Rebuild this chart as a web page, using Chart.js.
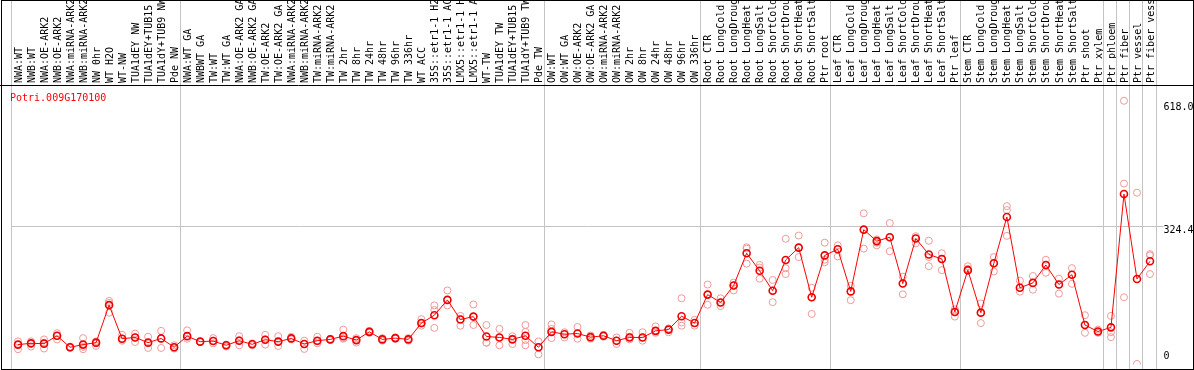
<!DOCTYPE html>
<html>
<head>
<meta charset="utf-8">
<script src="https://cdn.jsdelivr.net/npm/chart.js@4.4.1/dist/chart.umd.min.js"></script>
<style>
  html, body { margin: 0; padding: 0; background: #fff; }
  #chart { display: block; }
</style>
</head>
<body>
<canvas id="chart" width="1194" height="370"></canvas>
<script>
// Sample names (x categories)
const categories = [
  "NWA:WT", "NWB:WT", "NWA:OE-ARK2", "NWB:OE-ARK2", "NWA:miRNA-ARK2", "NWB:miRNA-ARK2",
  "NW 0hr", "WT H2O", "WT-NW", "TUA1dEY NW", "TUA1dEY+TUB15 NW", "TUA1dY+TUB9 NW", "Pde NW",
  "NWA:WT GA", "NWBWT GA", "TW:WT", "TW:WT GA", "NWA:OE-ARK2 GA", "NWB:OE-ARK2 GA",
  "TW:OE-ARK2", "TW:OE-ARK2 GA", "NWA:miRNA-ARK2", "NWB:miRNA-ARK2", "TW:miRNA-ARK2",
  "TW:miRNA-ARK2", "TW 2hr", "TW 8hr", "TW 24hr", "TW 48hr", "TW 96hr", "TW 336hr", "WT ACC",
  "35S::etr1-1 H2O", "35S::etr1-1 ACC", "LMX5::etr1-1 H2O", "LMX5::etr1-1 ACC", "WT-TW",
  "TUA1dEY TW", "TUA1dEY+TUB15 TW", "TUA1dY+TUB9 TW", "Pde TW",
  "OW:WT", "OW:WT GA", "OW:OE-ARK2", "OW:OE-ARK2 GA", "OW:miRNA-ARK2", "OW:miRNA-ARK2",
  "OW 2hr", "OW 8hr", "OW 24hr", "OW 48hr", "OW 96hr", "OW 336hr",
  "Root CTR", "Root LongCold", "Root LongDrought", "Root LongHeat", "Root LongSalt",
  "Root ShortCold", "Root ShortDrought", "Root ShortHeat", "Root ShortSalt", "Ptr root",
  "Leaf CTR", "Leaf LongCold", "Leaf LongDrought", "Leaf LongHeat", "Leaf LongSalt",
  "Leaf ShortCold", "Leaf ShortDrought", "Leaf ShortHeat", "Leaf ShortSalt", "Ptr leaf",
  "Stem CTR", "Stem LongCold", "Stem LongDrought", "Stem LongHeat", "Stem LongSalt",
  "Stem ShortCold", "Stem ShortDrought", "Stem ShortHeat", "Stem ShortSalt",
  "Ptr shoot", "Ptr xylem", "Ptr phloem", "Ptr fiber", "Ptr vessel", "Ptr fiber vessel"
];

// mean expression per sample
const means = [
  46.4, 49.4, 48.7, 67.1, 40.2, 46.4, 51.0, 139.0, 60.2, 63.2, 51.0, 60.9, 40.2,
  66.2, 53.3, 54.7, 44.8, 55.6, 47.1, 57.9, 53.3, 60.9, 47.8, 55.6, 58.6, 66.2, 57.0,
  76.3, 58.6, 61.6, 58.6, 96.9, 115.3, 151.2, 105.2, 112.1, 65.5, 63.2, 58.6, 67.1, 40.2,
  76.3, 70.8, 72.4, 63.9, 67.1, 55.6, 63.2, 63.2, 78.6, 81.6, 113.0, 96.9,
  163.6, 145.2, 184.9, 260.7, 219.4, 172.8, 244.7, 273.8, 157.4, 255.5,
  269.9, 171.1, 315.9, 289.0, 298.2, 189.5, 295.2, 257.8, 247.0, 122.9,
  221.0, 121.3, 237.1, 345.7, 179.6, 191.1, 233.2, 187.2, 210.2,
  92.4, 77.0, 86.8, 399.3, 200.3, 241.7
];

// individual replicates per sample
const replicates = [
  [54.0, 46.4, 35.6], [54.0, 47.8, 41.8], [58.6, 51.0, 37.2], [73.1, 66.2, 58.6],
  [41.8, 40.2, 38.6], [61.6, 40.9, 35.6], [54.0, 49.4, 43.2], [148.9, 144.3, 121.3],
  [69.4, 60.2, 55.6], [72.4, 63.2, 52.4], [64.8, 51.0, 38.6], [78.6, 60.2, 38.6],
  [44.8, 40.2, 37.2], [79.9, 66.2, 60.2], [54.0, 53.3, 52.6], [61.6, 55.6, 49.4],
  [46.4, 44.8, 41.8], [66.2, 57.0, 44.8], [49.4, 47.8, 44.8], [69.4, 58.6, 46.4],
  [66.2, 54.0, 43.2], [64.8, 61.6, 58.6], [55.6, 47.8, 36.3], [64.8, 54.0, 49.4],
  [60.2, 58.6, 57.0], [81.6, 61.6, 60.2], [61.6, 57.0, 51.0], [78.6, 76.3, 74.0],
  [61.6, 58.6, 55.6], [63.2, 61.6, 60.2], [61.6, 58.6, 55.6], [106.1, 95.3, 90.7],
  [138.3, 127.5, 85.5], [173.4, 151.2, 138.3], [113.7, 106.1, 90.7], [140.6, 112.1, 92.4],
  [92.4, 51.0, 51.0], [83.2, 63.2, 44.8], [66.2, 60.2, 47.8], [92.4, 76.3, 57.0, 44.8],
  [54.0, 40.2, 23.4], [93.7, 83.2, 61.6], [75.4, 70.8, 63.2], [87.8, 72.4, 60.2],
  [67.8, 63.9, 60.2], [69.4, 67.1, 64.8], [63.2, 55.6, 47.8], [74.0, 64.8, 58.6],
  [75.4, 63.2, 55.6], [89.1, 78.6, 74.0], [84.5, 81.6, 75.4], [155.1, 98.3, 90.7],
  [104.5, 96.9, 90.7], [187.2, 163.6, 139.7], [155.1, 144.3, 136.7], [191.8, 184.9, 173.4],
  [274.5, 271.5, 236.2], [233.2, 227.0, 201.0], [198.0, 172.8, 145.9], [294.5, 225.6, 211.8],
  [302.1, 273.8, 251.6], [179.6, 157.4, 118.3], [285.3, 245.4, 239.4], [279.1, 269.9, 253.2],
  [184.2, 171.1, 150.5], [354.2, 315.9, 271.5], [292.9, 285.3, 279.1], [331.3, 298.2, 265.3],
  [205.6, 189.5, 164.3], [300.5, 295.2, 283.7], [289.9, 251.6, 230.2], [260.7, 247.0, 221.0],
  [129.1, 122.9, 112.1], [230.2, 224.0, 219.4], [142.9, 121.3, 96.9], [251.6, 237.1, 217.8],
  [371.0, 361.8, 301.4], [196.4, 179.6, 170.5], [207.2, 191.1, 175.1], [245.4, 233.2, 214.8],
  [201.0, 187.2, 165.9], [225.6, 210.2, 188.8], [115.3, 92.4, 74.0], [81.6, 77.0, 74.0],
  [113.7, 75.4, 63.9], [618.0, 423.9, 157.4], [402.5, 1.1], [258.4, 255.5, 211.8]
];

const yTicks = [0, 324.4, 618.0];
const geneName = "Potri.009G170100";
// group boundaries (number of samples before each divider)
const groupBreaks = [0, 13, 41, 53, 63, 73, 84, 85, 86, 87, 88];

const MONO = "'DejaVu Sans Mono', 'Liberation Mono', monospace";

// one scatter dataset per replicate slot
const maxReps = Math.max(...replicates.map(r => r.length));
const repDatasets = [];
for (let r = 0; r < maxReps; r++) {
  repDatasets.push({
    type: "line",
    data: replicates.map(a => (a[r] === undefined ? null : a[r])),
    showLine: false,
    pointRadius: 3.5,
    pointBorderWidth: 1,
    pointBorderColor: "#f09898",
    pointBackgroundColor: "rgba(0,0,0,0)",
    order: 2,
  });
}

const decor = {
  id: "decor",
  beforeDatasetsDraw(chart) {
    const { ctx, chartArea, scales } = chart;
    ctx.save();
    ctx.strokeStyle = "#c4c4c4";
    ctx.lineWidth = 1;
    groupBreaks.forEach(k => {
      const x = Math.round(scales.x.getPixelForValue(k - 0.5)) - 0.5;
      ctx.beginPath();
      ctx.moveTo(x, 0);
      ctx.lineTo(x, chart.height);
      ctx.stroke();
    });
    const gy = Math.round(scales.y.getPixelForValue(yTicks[1])) + 0.5;
    ctx.beginPath();
    ctx.moveTo(chartArea.left, gy);
    ctx.lineTo(chartArea.right + 7, gy);
    ctx.stroke();
    ctx.restore();
  },
  afterDraw(chart) {
    const { ctx, chartArea, scales } = chart;
    ctx.save();
    ctx.strokeStyle = "#000";
    ctx.lineWidth = 1;
    ctx.strokeRect(1.5, 0.5, chart.width - 2, chart.height - 1);
    ctx.beginPath();
    ctx.moveTo(0, chartArea.top + 0.5);
    ctx.lineTo(chart.width, chartArea.top + 0.5);
    ctx.stroke();

    ctx.font = "10px " + MONO;
    ctx.fillStyle = "#ff0000";
    ctx.textAlign = "left";
    ctx.textBaseline = "alphabetic";
    ctx.fillText(geneName, 10, 101);

    // value labels on the right
    ctx.fillStyle = "#000";
    ctx.textBaseline = "middle";
    const offs = [-8, 4, 6.5];
    yTicks.forEach((v, i) => {
      const y = scales.y.getPixelForValue(v) + offs[i];
      const txt = v === 0 ? "0" : v.toFixed(1);
      ctx.fillText(txt, chartArea.right + 7, y);
    });
    ctx.restore();
  }
};

new Chart(document.getElementById("chart"), {
  type: "line",
  data: {
    labels: categories,
    datasets: [
      {
        data: means,
        borderColor: "#ff0000",
        borderWidth: 1,
        tension: 0,
        pointRadius: 3.5,
        pointBorderWidth: 1.6,
        pointBorderColor: "#ee0000",
        pointBackgroundColor: "rgba(0,0,0,0)",
        order: 1,
      },
      ...repDatasets,
    ],
  },
  options: {
    responsive: false,
    animation: false,
    devicePixelRatio: 1,
    layout: { padding: { left: 11.5, right: 0, top: 0, bottom: 0 } },
    plugins: { legend: { display: false }, tooltip: { enabled: false } },
    scales: {
      x: {
        type: "category",
        position: "top",
        offset: true,
        grid: { display: false, drawTicks: false },
        border: { display: false },
        ticks: {
          autoSkip: false,
          minRotation: 90,
          maxRotation: 90,
          padding: 2,
          labelOffset: 13,
          color: "#000",
          font: { family: MONO, size: 10 },
        },
        afterFit(scale) { scale.height = 85; },
      },
      y: {
        position: "right",
        min: 0,
        max: 655,
        grid: { display: false, drawTicks: false },
        border: { display: false },
        ticks: { display: false },
        afterFit(scale) { scale.width = 37.5; },
      },
    },
  },
  plugins: [decor],
});
</script>
</body>
</html>
